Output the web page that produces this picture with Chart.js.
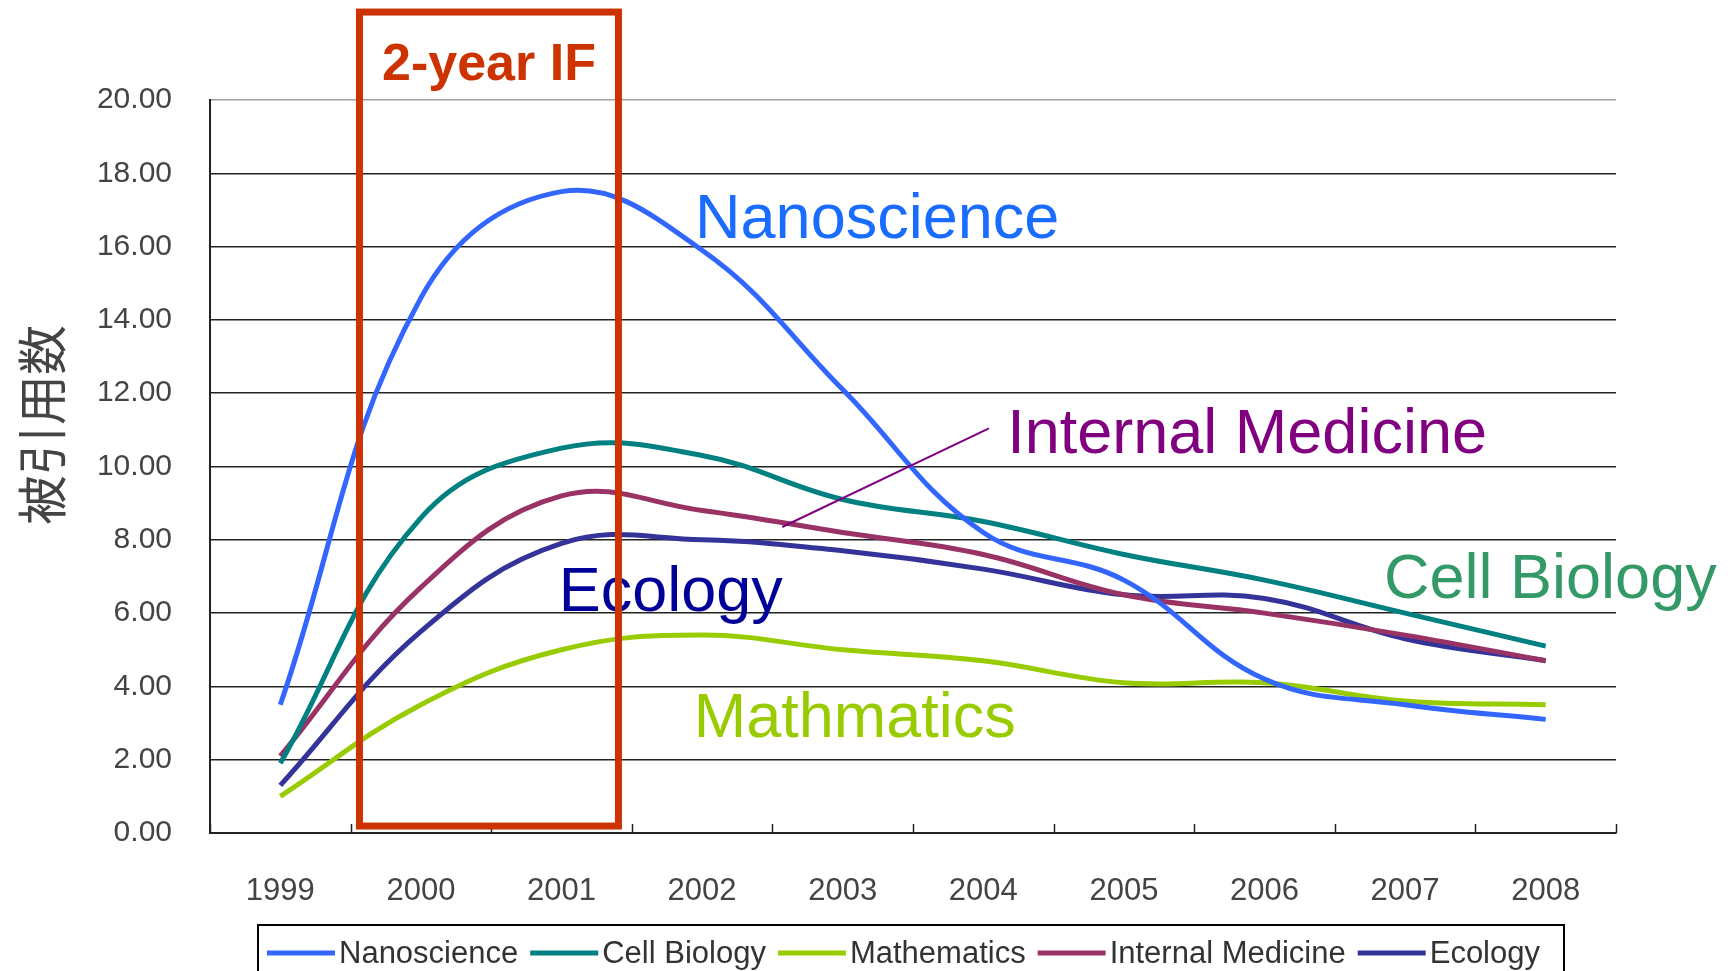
<!DOCTYPE html>
<html>
<head>
<meta charset="utf-8">
<script src="https://cdn.jsdelivr.net/npm/chart.js@4.4.1/dist/chart.umd.min.js"></script>
<style>
  html, body { margin: 0; padding: 0; background: #fff; }
  canvas { display: block; }
</style>
</head>
<body>
<canvas id="chart" width="1736" height="971"></canvas>
<script>
const years = ['1999', '2000', '2001', '2002', '2003', '2004', '2005', '2006', '2007', '2008'];
const nanoscience     = [3.5, 14.6, 17.5, 15.9, 12.1, 8.2, 6.9, 4.2, 3.5, 3.1];
const cellBiology     = [1.9, 8.6, 10.5, 10.3, 9.1, 8.5, 7.6, 6.9, 6.0, 5.1];
const mathematics     = [1.0, 3.5, 5.0, 5.4, 5.0, 4.7, 4.1, 4.1, 3.6, 3.5];
const internalMedicine = [2.1, 6.7, 9.2, 8.8, 8.2, 7.6, 6.5, 6.0, 5.4, 4.7];
const ecology         = [1.3, 5.5, 7.9, 8.0, 7.7, 7.2, 6.5, 6.4, 5.3, 4.7];

const FONT = "'Liberation Sans', Arial, sans-serif";

// big coloured labels inside the plot, placed in data units (category index, value)
const callouts = [
  { text: 'Nanoscience', color: '#1a6cff', x: 2.95, y: 16.23, width: 368 },
  { text: 'Internal Medicine', color: '#800080', x: 5.17, y: 10.37, width: 485 },
  { text: 'Cell Biology', color: '#339966', x: 7.85, y: 6.41, width: 335 },
  { text: 'Ecology', color: '#000099', x: 1.98, y: 6.06, width: 224 },
  { text: 'Mathmatics', color: '#99cc00', x: 2.94, y: 2.62, width: 323 }
];

const overlay = {
  id: 'overlay',
  afterDatasetsDraw(chart) {
    const ctx = chart.ctx;
    const xs = chart.scales.x, ys = chart.scales.y;
    const area = chart.chartArea;

    // small tick marks on the category axis, pointing up into the plot
    ctx.save();
    ctx.strokeStyle = '#222';
    ctx.lineWidth = 1.5;
    for (let i = 0; i <= years.length; i++) {
      const px = Math.round(xs.getPixelForValue(i - 0.5)) + 0.5;
      ctx.beginPath();
      ctx.moveTo(px, area.bottom);
      ctx.lineTo(px, area.bottom - 9);
      ctx.stroke();
    }
    ctx.restore();

    // callout texts
    ctx.save();
    ctx.font = '63px ' + FONT;
    ctx.textBaseline = 'alphabetic';
    ctx.textAlign = 'left';
    callouts.forEach(c => {
      ctx.fillStyle = c.color;
      ctx.fillText(c.text, xs.getPixelForValue(c.x), ys.getPixelForValue(c.y), c.width);
    });
    ctx.restore();

    // leader line for Internal Medicine
    ctx.save();
    ctx.strokeStyle = '#800080';
    ctx.lineWidth = 2;
    ctx.beginPath();
    ctx.moveTo(xs.getPixelForValue(5.04), ys.getPixelForValue(11.04));
    ctx.lineTo(xs.getPixelForValue(3.57), ys.getPixelForValue(8.35));
    ctx.stroke();
    ctx.restore();

    // 2-year IF window
    const bx0 = xs.getPixelForValue(0.563), bx1 = xs.getPixelForValue(2.405);
    const by0 = ys.getPixelForValue(22.4), by1 = ys.getPixelForValue(0.19);
    ctx.save();
    ctx.strokeStyle = '#cc3300';
    ctx.lineWidth = 7;
    ctx.strokeRect(bx0, by0, bx1 - bx0, by1 - by0);
    ctx.fillStyle = '#cc3300';
    ctx.font = 'bold 52px ' + FONT;
    ctx.textAlign = 'center';
    ctx.textBaseline = 'alphabetic';
    ctx.fillText('2-year IF', (bx0 + bx1) / 2, 80);
    ctx.restore();
  },
  afterDraw(chart) {
    const ctx = chart.ctx;

    // y axis title
    ctx.save();
    ctx.translate(42, 425);
    ctx.rotate(-Math.PI / 2);
    ctx.fillStyle = '#444';
    ctx.font = "50px 'Noto Sans CJK JP', sans-serif";
    ctx.textAlign = 'center';
    ctx.textBaseline = 'middle';
    ctx.fillText('被引用数', 0, 0);
    ctx.restore();

    // boxed legend along the bottom
    ctx.save();
    ctx.strokeStyle = '#000';
    ctx.lineWidth = 2;
    ctx.strokeRect(258, 925, 1306, 70);
    ctx.font = '31px ' + FONT;
    ctx.textBaseline = 'middle';
    ctx.fillStyle = '#333';
    let x = 267;
    const ly = 953;
    chart.data.datasets.forEach(ds => {
      ctx.strokeStyle = ds.borderColor;
      ctx.lineWidth = 5;
      ctx.beginPath();
      ctx.moveTo(x, ly);
      ctx.lineTo(x + 68, ly);
      ctx.stroke();
      x += 72;
      ctx.fillText(ds.label, x, ly + 1);
      x += ctx.measureText(ds.label).width + 12;
    });
    ctx.restore();
  }
};

const series = [
  { label: 'Nanoscience', data: nanoscience, color: '#3366ff' },
  { label: 'Cell Biology', data: cellBiology, color: '#008080' },
  { label: 'Mathematics', data: mathematics, color: '#99cc00' },
  { label: 'Internal Medicine', data: internalMedicine, color: '#993366' },
  { label: 'Ecology', data: ecology, color: '#333399' }
];

new Chart(document.getElementById('chart'), {
  type: 'line',
  data: {
    labels: years,
    datasets: series.map(s => ({
      label: s.label,
      data: s.data,
      borderColor: s.color,
      backgroundColor: s.color,
      borderWidth: 5,
      pointRadius: 0,
      tension: 0.4,
      fill: false
    }))
  },
  options: {
    responsive: false,
    animation: false,
    devicePixelRatio: 1,
    layout: { padding: { top: 100, right: 120, left: 0, bottom: 0 } },
    plugins: { legend: { display: false }, tooltip: { enabled: false } },
    scales: {
      x: {
        offset: true,
        grid: {
          offset: true,
          drawTicks: false,
          lineWidth: 1.5,
          color: ctx => ctx.index === years.length ? '#a0a0a0' : 'rgba(0,0,0,0)'
        },
        border: { color: '#222', width: 2 },
        ticks: { color: '#444', font: { family: FONT, size: 31 }, padding: 40, maxRotation: 0, autoSkip: false },
        afterFit: s => { s.height = 138; }
      },
      y: {
        min: 0,
        max: 20,
        grid: {
          drawTicks: false,
          lineWidth: 1.5,
          color: ctx => ctx.tick && ctx.tick.value === 20 ? '#a0a0a0' : '#222'
        },
        border: { color: '#222', width: 2 },
        ticks: {
          stepSize: 2,
          color: '#444',
          font: { family: FONT, size: 30 },
          padding: 38,
          callback: v => v.toFixed(2)
        },
        afterFit: s => { s.width = 210; }
      }
    }
  },
  plugins: [overlay]
});
</script>
</body>
</html>
